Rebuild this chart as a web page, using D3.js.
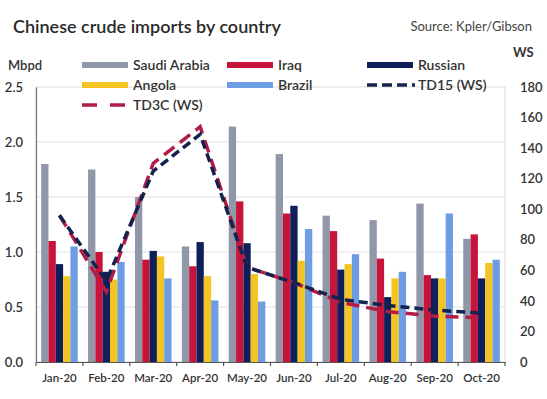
<!DOCTYPE html>
<html>
<head>
<meta charset="utf-8">
<script src="https://cdn.jsdelivr.net/npm/d3@7"></script>
<style>
  body { margin: 0; background: #fff; }
  svg { display: block; font-family: Lato, "Open Sans", sans-serif; }
</style>
</head>
<body>
<svg id="chart" width="547" height="399"></svg>
<script>
// data
const months = ["Jan-20", "Feb-20", "Mar-20", "Apr-20", "May-20", "Jun-20", "Jul-20", "Aug-20", "Sep-20", "Oct-20"];
const countries = ["Saudi Arabia", "Iraq", "Russian", "Angola", "Brazil"];
const saudi   = [1.80, 1.75, 1.50, 1.05, 2.14, 1.89, 1.33, 1.29, 1.44, 1.12];
const iraq    = [1.10, 1.00, 0.93, 0.87, 1.46, 1.35, 1.19, 0.94, 0.79, 1.16];
const russian = [0.89, 0.82, 1.01, 1.09, 1.08, 1.42, 0.84, 0.59, 0.76, 0.76];
const angola  = [0.78, 0.75, 0.96, 0.78, 0.80, 0.92, 0.89, 0.76, 0.76, 0.90];
const brazil  = [1.05, 0.91, 0.76, 0.56, 0.55, 1.21, 0.98, 0.82, 1.35, 0.93];
const td15    = [96, 53, 125, 149, 62, 52, 41, 37, 34, 32];
const td3c    = [96, 46, 130, 154, 62, 52, 39, 33, 30, 29];
const leftTicks  = [0, 0.5, 1.0, 1.5, 2.0, 2.5];
const rightTicks = [0, 20, 40, 60, 80, 100, 120, 140, 160, 180];

const colors = {
  "Saudi Arabia": "#8f97a8",
  "Iraq": "#c8133a",
  "Russian": "#0f1f5a",
  "Angola": "#f4c522",
  "Brazil": "#6f9de3",
  "TD15 (WS)": "#14224f",
  "TD3C (WS)": "#b41c48"
};

const series = [saudi, iraq, russian, angola, brazil];

const svg = d3.select("#chart");
const plot = { left: 36, right: 505, top: 87, bottom: 362 };

// scales
const x0 = d3.scaleBand().domain(months).range([plot.left, plot.right]).padding(0);
const groupW = x0.bandwidth() * 0.78;
const x1 = d3.scaleBand().domain(countries)
  .range([(x0.bandwidth() - groupW) / 2, (x0.bandwidth() + groupW) / 2]).padding(0);
const yL = d3.scaleLinear().domain([0, 2.5]).range([plot.bottom, plot.top]);
const yR = d3.scaleLinear().domain([0, 180]).range([plot.bottom, plot.top]);

// title + source
svg.append("text").attr("x", 13).attr("y", 33)
  .attr("font-size", 18).attr("font-weight", 600).attr("fill", "#2a2a2a")
  .text("Chinese crude imports by country");
svg.append("text").attr("x", 532).attr("y", 31).attr("text-anchor", "end")
  .attr("font-size", 13).attr("fill", "#444")
  .text("Source: Kpler/Gibson");

// frame + gridlines
svg.append("rect").attr("x", plot.left).attr("y", plot.top)
  .attr("width", plot.right - plot.left).attr("height", plot.bottom - plot.top)
  .attr("fill", "none").attr("stroke", "#d9d9d9").attr("stroke-width", 1);
svg.append("g").selectAll("line")
  .data(leftTicks.filter(d => d > 0 && d < 2.5))
  .enter().append("line")
  .attr("x1", plot.left).attr("x2", plot.right)
  .attr("y1", d => yL(d)).attr("y2", d => yL(d))
  .attr("stroke", "#e2e2e2").attr("stroke-width", 1.2);

// bars
const groups = svg.append("g").selectAll("g")
  .data(months).enter().append("g")
  .attr("transform", d => `translate(${x0(d)},0)`);
groups.selectAll("rect")
  .data((m, i) => countries.map((c, k) => ({ c, v: series[k][i] })))
  .enter().append("rect")
  .attr("x", d => x1(d.c))
  .attr("y", d => yL(d.v))
  .attr("width", x1.bandwidth())
  .attr("height", d => plot.bottom - yL(d.v))
  .attr("fill", d => colors[d.c]);

// lines
const lineGen = d3.line()
  .x((d, i) => x0(months[i]) + x0.bandwidth() / 2)
  .y(d => yR(d));
svg.append("path").datum(td3c).attr("d", lineGen)
  .attr("fill", "none").attr("stroke", colors["TD3C (WS)"])
  .attr("stroke-width", 3.5).attr("stroke-dasharray", "13,7");
svg.append("path").datum(td15).attr("d", lineGen)
  .attr("fill", "none").attr("stroke", colors["TD15 (WS)"])
  .attr("stroke-width", 3.5).attr("stroke-dasharray", "9,5");

// axes
const xAxis = svg.append("g").attr("transform", `translate(0,${plot.bottom})`)
  .call(d3.axisBottom(x0).tickSize(0).tickPadding(12));
xAxis.select(".domain").attr("stroke", "#555").attr("stroke-width", 1.2);
xAxis.selectAll("text").attr("font-size", 11.5).attr("font-weight", 600).attr("fill", "#333")
  .attr("font-family", "Lato, sans-serif");
// category boundary ticks
svg.append("g").selectAll("line")
  .data(d3.range(months.length + 1))
  .enter().append("line")
  .attr("x1", i => plot.left + i * x0.bandwidth())
  .attr("x2", i => plot.left + i * x0.bandwidth())
  .attr("y1", plot.bottom).attr("y2", plot.bottom + 4)
  .attr("stroke", "#555").attr("stroke-width", 1.2);

const yAxisL = svg.append("g").attr("transform", `translate(${plot.left},0)`)
  .call(d3.axisLeft(yL).tickValues(leftTicks).tickFormat(d3.format(".1f")).tickSize(0).tickPadding(13));
yAxisL.select(".domain").attr("stroke", "#777").attr("stroke-width", 1.2);
yAxisL.selectAll("text").attr("font-size", 13).attr("font-weight", 600).attr("fill", "#333")
  .attr("font-family", "Lato, sans-serif");

const yAxisR = svg.append("g").attr("transform", `translate(${plot.right},0)`)
  .call(d3.axisRight(yR).tickValues(rightTicks).tickSize(0).tickPadding(15));
yAxisR.select(".domain").remove();
yAxisR.selectAll("text").attr("font-size", 13).attr("font-weight", 600).attr("fill", "#333")
  .attr("font-family", "Lato, sans-serif");

svg.append("text").attr("x", 8).attr("y", 70).attr("font-size", 13).attr("font-weight", 600)
  .attr("fill", "#333").text("Mbpd");
svg.append("text").attr("x", 513).attr("y", 57).attr("font-size", 13).attr("font-weight", 700)
  .attr("fill", "#333").text("WS");

// legend
const legendItems = [
  { name: "Saudi Arabia", x: 82, y: 65, type: "bar" },
  { name: "Iraq", x: 227, y: 65, type: "bar" },
  { name: "Russian", x: 367, y: 65, type: "bar" },
  { name: "Angola", x: 82, y: 85, type: "bar" },
  { name: "Brazil", x: 227, y: 85, type: "bar" },
  { name: "TD15 (WS)", x: 367, y: 85, type: "line", dash: "10,5", w: 48 },
  { name: "TD3C (WS)", x: 82, y: 105, type: "line", dash: "15,13", w: 46 }
];
const leg = svg.append("g").selectAll("g").data(legendItems).enter().append("g");
leg.filter(d => d.type === "bar").append("rect")
  .attr("x", d => d.x).attr("y", d => d.y - 3)
  .attr("width", 46).attr("height", 6)
  .attr("fill", d => colors[d.name]);
leg.filter(d => d.type === "line").append("line")
  .attr("x1", d => d.x).attr("x2", d => d.x + d.w)
  .attr("y1", d => d.y).attr("y2", d => d.y)
  .attr("stroke", d => colors[d.name]).attr("stroke-width", 3.5)
  .attr("stroke-dasharray", d => d.dash);
leg.append("text")
  .attr("x", d => d.x + 51)
  .attr("y", d => d.y + 5)
  .attr("font-size", 14).attr("font-weight", 600).attr("fill", "#333")
  .text(d => d.name);
</script>
</body>
</html>
